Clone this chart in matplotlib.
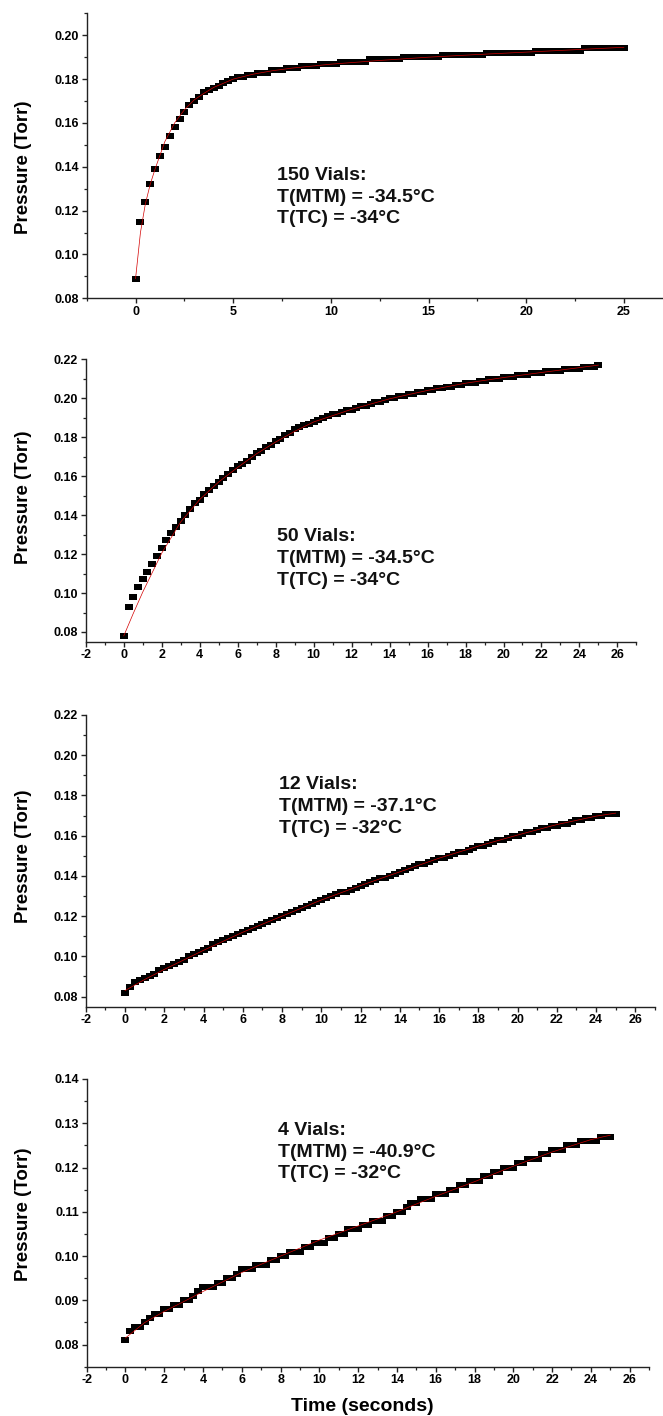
import numpy as np
import matplotlib.pyplot as plt
from matplotlib.ticker import MultipleLocator, FormatStrFormatter

plt.rcParams['font.family'] = ['Liberation Sans', 'DejaVu Sans']
plt.rcParams['font.weight'] = 'bold'

# sample clock of the gauge (one reading every 0.25 s)
time_s = np.arange(0, 25.001, 0.25)

p_150 = [0.089, 0.115, 0.124, 0.132, 0.139, 0.145, 0.149, 0.154,
         0.158, 0.162, 0.165, 0.168, 0.170, 0.172, 0.174, 0.175,
         0.176, 0.177, 0.178, 0.179, 0.180, 0.181, 0.181, 0.182,
         0.182, 0.183, 0.183, 0.183, 0.184, 0.184, 0.184, 0.185,
         0.185, 0.185, 0.186, 0.186, 0.186, 0.186, 0.187, 0.187,
         0.187, 0.187, 0.188, 0.188, 0.188, 0.188, 0.188, 0.188,
         0.189, 0.189, 0.189, 0.189, 0.189, 0.189, 0.189, 0.190,
         0.190, 0.190, 0.190, 0.190, 0.190, 0.190, 0.190, 0.191,
         0.191, 0.191, 0.191, 0.191, 0.191, 0.191, 0.191, 0.191,
         0.192, 0.192, 0.192, 0.192, 0.192, 0.192, 0.192, 0.192,
         0.192, 0.192, 0.193, 0.193, 0.193, 0.193, 0.193, 0.193,
         0.193, 0.193, 0.193, 0.193, 0.194, 0.194, 0.194, 0.194,
         0.194, 0.194, 0.194, 0.194, 0.194]

p_50 = [0.078, 0.093, 0.098, 0.103, 0.107, 0.111, 0.115, 0.119,
        0.123, 0.127, 0.131, 0.134, 0.137, 0.140, 0.143, 0.146,
        0.148, 0.151, 0.153, 0.155, 0.157, 0.159, 0.161, 0.163,
        0.165, 0.166, 0.168, 0.170, 0.172, 0.173, 0.175, 0.176,
        0.178, 0.179, 0.181, 0.182, 0.184, 0.185, 0.186, 0.187,
        0.188, 0.189, 0.190, 0.191, 0.192, 0.192, 0.193, 0.194,
        0.194, 0.195, 0.196, 0.196, 0.197, 0.198, 0.198, 0.199,
        0.200, 0.200, 0.201, 0.201, 0.202, 0.202, 0.203, 0.203,
        0.204, 0.204, 0.205, 0.205, 0.206, 0.206, 0.207, 0.207,
        0.208, 0.208, 0.208, 0.209, 0.209, 0.210, 0.210, 0.210,
        0.211, 0.211, 0.211, 0.212, 0.212, 0.212, 0.213, 0.213,
        0.213, 0.214, 0.214, 0.214, 0.214, 0.215, 0.215, 0.215,
        0.215, 0.216, 0.216, 0.216, 0.217]

p_12 = [0.082, 0.085, 0.087, 0.088, 0.089, 0.090, 0.091, 0.093,
        0.094, 0.095, 0.096, 0.097, 0.098, 0.100, 0.101, 0.102,
        0.103, 0.104, 0.106, 0.107, 0.108, 0.109, 0.110, 0.111,
        0.112, 0.113, 0.114, 0.115, 0.116, 0.117, 0.118, 0.119,
        0.120, 0.121, 0.122, 0.123, 0.124, 0.125, 0.126, 0.127,
        0.128, 0.129, 0.130, 0.131, 0.132, 0.132, 0.133, 0.134,
        0.135, 0.136, 0.137, 0.138, 0.139, 0.139, 0.140, 0.141,
        0.142, 0.143, 0.144, 0.145, 0.146, 0.146, 0.147, 0.148,
        0.149, 0.149, 0.150, 0.151, 0.152, 0.152, 0.153, 0.154,
        0.155, 0.155, 0.156, 0.157, 0.158, 0.158, 0.159, 0.160,
        0.160, 0.161, 0.162, 0.162, 0.163, 0.164, 0.164, 0.165,
        0.165, 0.166, 0.166, 0.167, 0.168, 0.168, 0.169, 0.169,
        0.170, 0.170, 0.171, 0.171, 0.171]

p_4 = [0.081, 0.083, 0.084, 0.084, 0.085, 0.086, 0.087, 0.087,
       0.088, 0.088, 0.089, 0.089, 0.090, 0.090, 0.091, 0.092,
       0.093, 0.093, 0.093, 0.094, 0.094, 0.095, 0.095, 0.096,
       0.097, 0.097, 0.097, 0.098, 0.098, 0.098, 0.099, 0.099,
       0.100, 0.100, 0.101, 0.101, 0.101, 0.102, 0.102, 0.103,
       0.103, 0.103, 0.104, 0.104, 0.105, 0.105, 0.106, 0.106,
       0.106, 0.107, 0.107, 0.108, 0.108, 0.108, 0.109, 0.109,
       0.110, 0.110, 0.111, 0.112, 0.112, 0.113, 0.113, 0.113,
       0.114, 0.114, 0.114, 0.115, 0.115, 0.116, 0.116, 0.117,
       0.117, 0.117, 0.118, 0.118, 0.119, 0.119, 0.120, 0.120,
       0.120, 0.121, 0.121, 0.122, 0.122, 0.122, 0.123, 0.123,
       0.124, 0.124, 0.124, 0.125, 0.125, 0.125, 0.126, 0.126,
       0.126, 0.126, 0.127, 0.127, 0.127]

# fitted curves (red lines)
fit_t_150 = [0, 0.25, 0.5, 0.75, 1.0, 1.5, 2.0, 2.5, 3.0, 3.5, 4.0, 5.0,
             6.0, 7.0, 8.0, 10.0, 12.5, 15.0, 17.5, 20.0, 22.5, 25.0]
fit_p_150 = [0.089, 0.110, 0.123, 0.132, 0.139, 0.1515, 0.1600, 0.1660,
             0.1705, 0.1735, 0.1762, 0.1800, 0.1822, 0.1838, 0.1850,
             0.1868, 0.1885, 0.1900, 0.1912, 0.1923, 0.1934, 0.1945]

fit_t_50 = [0, 0.5, 1, 1.5, 2, 3, 4, 5, 6, 7, 8, 9, 10, 12, 14, 16, 18,
            20, 22, 24, 25]
fit_p_50 = [0.078, 0.0895, 0.1005, 0.1105, 0.1205, 0.1365, 0.1480,
            0.1570, 0.1645, 0.1715, 0.1775, 0.1830, 0.1878, 0.1943,
            0.1997, 0.2040, 0.2077, 0.2106, 0.2132, 0.2157, 0.2170]

fit_t_12 = [0, 1, 2, 4, 6, 8, 10, 12, 14, 16, 18, 20, 22, 24, 25]
fit_p_12 = [0.0830, 0.0885, 0.0935, 0.1030, 0.1120, 0.1200, 0.1280,
            0.1352, 0.1420, 0.1488, 0.1548, 0.1603, 0.1655, 0.1697, 0.1712]

fit_t_4 = [0, 1, 2, 3, 4, 6, 8, 10, 12, 14, 16, 18, 20, 22, 24, 25]
fit_p_4 = [0.0815, 0.0850, 0.0875, 0.0897, 0.0920, 0.0963, 0.1000,
           0.1036, 0.1068, 0.1100, 0.1135, 0.1168, 0.1203, 0.1235,
           0.1263, 0.1273]

notes = ['150 Vials:\nT(MTM) = -34.5°C\nT(TC) = -34°C',
         '50 Vials:\nT(MTM) = -34.5°C\nT(TC) = -34°C',
         '12 Vials:\nT(MTM) = -37.1°C\nT(TC) = -32°C',
         '4 Vials:\nT(MTM) = -40.9°C\nT(TC) = -32°C']

series = [p_150, p_50, p_12, p_4]
fits = [(fit_t_150, fit_p_150), (fit_t_50, fit_p_50),
        (fit_t_12, fit_p_12), (fit_t_4, fit_p_4)]

boxes = [[0.1308, 0.7893, 0.8692, 0.2013],
         [0.1294, 0.5468, 0.8305, 0.1995],
         [0.1294, 0.2891, 0.8585, 0.2060],
         [0.1308, 0.0348, 0.8481, 0.2032]]
xlims = [(-2.5, 27), (-2, 27), (-2, 27), (-2, 27)]
ylims = [(0.08, 0.21), (0.075, 0.22), (0.075, 0.22), (0.075, 0.14)]
xsteps = [(5, 2.5), (2, 1), (2, 1), (2, 1)]
ysteps = [(0.02, 0.01), (0.02, 0.01), (0.02, 0.01), (0.01, 0.005)]
note_xy = [(7.23, 0.1262), (8.08, 0.1178), (7.82, 0.1743), (7.88, 0.1235)]
label_y = [0.8817, 0.6487, 0.3956, 0.1427]

rect = [(-1, -0.65), (1, -0.65), (1, 0.65), (-1, 0.65), (-1, -0.65)]

fig = plt.figure(figsize=(6.63, 14.16), dpi=100)

for i in range(4):
    ax = fig.add_axes(boxes[i])
    ax.plot(time_s, series[i], linestyle='none', marker=rect, markersize=6.2,
            color='black', markeredgewidth=0, zorder=2)
    ax.plot(fits[i][0], fits[i][1], color='#d40000', linewidth=0.5, zorder=3)

    ax.set_xlim(*xlims[i])
    ax.set_ylim(*ylims[i])
    ax.xaxis.set_major_locator(MultipleLocator(xsteps[i][0]))
    ax.xaxis.set_minor_locator(MultipleLocator(xsteps[i][1]))
    ax.yaxis.set_major_locator(MultipleLocator(ysteps[i][0]))
    ax.yaxis.set_minor_locator(MultipleLocator(ysteps[i][1]))
    ax.yaxis.set_major_formatter(FormatStrFormatter('%.2f'))
    ax.xaxis.set_major_formatter(FormatStrFormatter('%d'))

    for side in ['top', 'right']:
        ax.spines[side].set_visible(False)
    for side in ['left', 'bottom']:
        ax.spines[side].set_linewidth(1.0)
        ax.spines[side].set_color('#222222')
    ax.tick_params(which='major', direction='out', length=3.5, width=1.0,
                   color='#222222', labelsize=9, pad=2)
    ax.tick_params(which='minor', direction='out', length=2, width=0.9,
                   color='#222222')
    for lab in ax.get_xticklabels() + ax.get_yticklabels():
        lab.set_fontweight('bold')

    ax.text(note_xy[i][0], note_xy[i][1], notes[i], fontsize=14,
            fontweight='bold', ha='left', va='center', linespacing=1.38,
            color='#111111')

    fig.text(24 / 663, label_y[i], 'Pressure (Torr)', rotation=90,
             fontsize=13.5, fontweight='bold', ha='center', va='center')

fig.text(0.547, 0.0064, 'Time (seconds)', fontsize=14, fontweight='bold',
         ha='center', va='center')

fig.savefig('out.png', dpi=100)
